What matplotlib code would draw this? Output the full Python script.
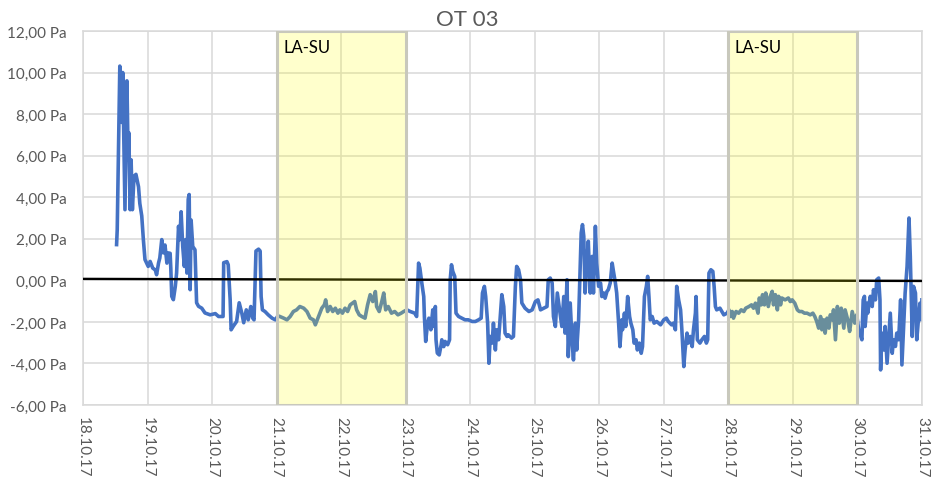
import matplotlib
matplotlib.use("Agg")
import matplotlib.pyplot as plt
from matplotlib.patches import Rectangle

# Pressure trace OT 03, time in days since 18.10.17 00:00, values in Pa
days = [
    0.52, 0.53, 0.57, 0.60, 0.615, 0.65, 0.68, 0.70, 0.71, 0.73, 0.745, 0.765, 0.79, 0.82, 0.86,
    0.88, 0.91, 0.935, 0.96, 0.99, 1.01, 1.04, 1.08, 1.12, 1.14, 1.17, 1.19, 1.22, 1.245, 1.27,
    1.30, 1.32, 1.35, 1.36, 1.375, 1.40, 1.43, 1.45, 1.48, 1.50, 1.52, 1.545, 1.57, 1.59, 1.61,
    1.63, 1.645, 1.66, 1.675, 1.70, 1.735, 1.76, 1.79, 1.84, 1.89, 1.97, 2.05, 2.10, 2.17, 2.18,
    2.23, 2.25, 2.28, 2.295, 2.33, 2.38, 2.42, 2.46, 2.49, 2.53, 2.56, 2.60, 2.63, 2.65, 2.68,
    2.72, 2.745,
    2.76, 2.78, 2.82, 2.87, 2.93, 2.98, 3.02, 3.05, 3.11, 3.16, 3.21, 3.26, 3.31, 3.36, 3.42,
    3.47, 3.52, 3.57, 3.60, 3.64, 3.67, 3.70, 3.74, 3.76, 3.79, 3.83, 3.87, 3.91, 3.95, 3.98,
    4.02, 4.06, 4.10, 4.14, 4.18, 4.21, 4.24, 4.28, 4.32, 4.37, 4.41, 4.45, 4.49, 4.53, 4.55,
    4.59, 4.63, 4.66, 4.69, 4.73, 4.78, 4.83, 4.88, 4.93, 4.97, 5.02, 5.07, 5.14,
    5.17, 5.19, 5.20, 5.22, 5.25, 5.28, 5.29, 5.31, 5.34, 5.36, 5.39, 5.42, 5.43, 5.46, 5.47,
    5.49, 5.52, 5.55, 5.56, 5.59, 5.61, 5.65, 5.68, 5.69, 5.71, 5.73, 5.76, 5.78, 5.82, 5.87,
    5.92, 5.97, 6.03, 6.08, 6.13, 6.17, 6.19, 6.22, 6.24, 6.27, 6.29, 6.31, 6.34, 6.36, 6.39,
    6.41, 6.44, 6.47, 6.49, 6.52, 6.54, 6.57, 6.59, 6.64, 6.67, 6.70, 6.72, 6.75, 6.78, 6.80,
    6.85, 6.91, 6.96, 7.01, 7.05, 7.09, 7.14, 7.19, 7.21, 7.24, 7.27, 7.29, 7.32, 7.35,
    7.42, 7.45, 7.47, 7.50, 7.52, 7.55, 7.58, 7.60, 7.63, 7.65, 7.68, 7.70, 7.72, 7.74, 7.76,
    7.78, 7.81, 7.83, 7.86, 7.89, 7.91, 7.94, 7.96, 7.99, 8.02, 8.04, 8.07, 8.09, 8.12, 8.14,
    8.17, 8.20, 8.22, 8.25, 8.27, 8.30, 8.32, 8.35, 8.36, 8.39, 8.41, 8.44, 8.47, 8.49, 8.52,
    8.54, 8.57, 8.59, 8.62, 8.65, 8.67, 8.70, 8.73, 8.75, 8.77, 8.79, 8.82, 8.85, 8.89, 8.95,
    9.00, 9.04, 9.07, 9.12, 9.15, 9.18, 9.20, 9.23, 9.26, 9.28, 9.31, 9.33, 9.36, 9.38, 9.41,
    9.44, 9.46, 9.49, 9.50, 9.52, 9.56, 9.59, 9.63, 9.66, 9.68, 9.70, 9.73, 9.76, 9.78, 9.80,
    9.82, 9.87,
    9.93, 9.98, 10.01, 10.03, 10.06, 10.08, 10.12, 10.16, 10.20, 10.24, 10.27, 10.32, 10.36,
    10.39, 10.42, 10.46, 10.48, 10.51, 10.53, 10.56, 10.58, 10.62, 10.65, 10.68, 10.70, 10.73,
    10.76, 10.78, 10.81, 10.83, 10.88, 10.93, 10.96, 10.99, 11.03, 11.07, 11.10, 11.14, 11.18,
    11.22, 11.27, 11.31, 11.34, 11.37, 11.40, 11.43, 11.45, 11.48, 11.50, 11.53, 11.56, 11.58,
    11.61, 11.63, 11.66, 11.69, 11.72, 11.75, 11.79, 11.81, 11.85, 11.88, 11.92, 11.96, 11.99,
    12.02,
    12.07, 12.09, 12.11, 12.12, 12.15, 12.16, 12.20, 12.23, 12.25, 12.28, 12.30, 12.33, 12.35,
    12.36, 12.38, 12.41, 12.43, 12.46, 12.49, 12.51, 12.54, 12.56, 12.59, 12.61, 12.64, 12.67,
    12.69, 12.72, 12.74, 12.77, 12.80, 12.82, 12.85, 12.87, 12.90, 12.92, 12.95, 12.97, 12.99,
    13.0,
]
pressure = [
    1.72, 2.44, 10.31, 7.6, 10.0, 3.4, 9.6, 5.8, 7.1, 3.4, 5.8, 3.4, 5.0, 5.1, 4.5,
    3.7, 3.1, 1.96, 1.0, 0.8, 0.67, 0.91, 0.59, 0.5, 0.27, 0.83, 1.08, 1.96, 1.32, 1.7,
    0.83, 1.32, 1.3, 0.6, -0.77, -0.93, -0.29, 0.35, 2.6, 1.96, 3.3, 1.63, 0.67, 1.96, 0.35,
    3.9, 4.13, -0.45, 2.9, 1.63, 1.47, -1.08, -1.25, -1.34, -1.57, -1.66, -1.6, -1.74, -1.74, 0.85,
    0.9, 0.75, -0.93, -2.38, -2.2, -1.98, -1.08, -1.57, -2.04, -1.42, -1.9, -1.26, -1.82, -1.9, 1.41,
    1.5, 1.41,
    -0.78, -1.42, -1.5, -1.66, -1.82, -1.9, -1.71, -1.74, -1.82, -1.9, -1.74, -1.5, -1.42, -1.26, -1.34,
    -1.5, -1.82, -1.9, -2.14, -1.82, -1.58, -1.34, -1.18, -0.94, -1.5, -1.26, -1.5, -1.34, -1.58, -1.42,
    -1.58, -1.34, -1.5, -1.18, -1.09, -1.02, -1.42, -1.66, -1.74, -1.82, -1.18, -0.69, -1.02, -0.54, -1.26,
    -1.5, -1.02, -0.61, -1.42, -1.26, -1.58, -1.5, -1.66, -1.58, -1.5, -1.42, -1.5, -1.58,
    -1.74, 0.03, 0.83, 0.59, -0.13, -0.78, -1.74, -2.94, -2.06, -1.82, -2.38, -1.42, -2.22, -1.26, -2.86,
    -3.50, -3.59, -3.10, -2.86, -3.19, -2.94, -3.10, -2.86, 0.03, 0.75, 0.43, 0.19, -1.58, -1.74, -1.82,
    -1.90, -1.90, -1.98, -1.98, -1.90, -1.82, -0.61, -0.29, -0.78, -2.06, -3.99, -2.70, -3.02, -2.06, -3.35,
    -2.38, -2.86, -1.58, -0.69, -1.26, -2.54, -2.70, -2.62, -2.78, -2.70, -0.29, 0.67, 0.51, 0.03, -1.09,
    -1.34, -1.50, -1.42, -1.02, -0.94, -1.42, -1.34, -1.26, 0.03, 0.11, -0.13, -1.74, -2.22, -0.61,
    -2.22, -0.78, -2.54, 0.03, -3.67, -1.09, -3.02, -3.83, -2.06, -3.35, -1.90, 0.19, 2.28, 2.68, 2.12,
    -0.61, 0.99, 1.88, -0.61, 1.15, -0.61, 2.60, 0.83, -0.29, -0.13, -0.78, -0.61, -0.86, -0.53, -0.45,
    -0.13, 0.83, 0.43, -0.13, -0.61, -2.06, -3.19, -1.90, -2.38, -1.58, -2.22, -0.78, -1.74, -2.06, -2.38,
    -3.02, -2.86, -3.35, -3.02, -3.51, -3.19, -0.78, -0.29, 0.19, -0.78, -1.90, -1.74, -2.06, -1.98, -2.14,
    -1.90, -1.82, -1.98, -2.14, -2.06, -2.38, -0.29, -0.94, -1.42, -2.38, -4.15, -3.35, -2.54, -3.02, -2.70,
    -3.19, -2.38, -1.58, -0.78, -2.86, -3.02, -2.86, -2.70, -3.02, -2.86, 0.35, 0.51, 0.43, -0.29, -1.26,
    -1.42, -1.34,
    -1.66, -1.58, -1.42, -1.74, -1.50, -1.82, -1.50, -1.58, -1.42, -1.50, -1.34, -1.26, -1.18,
    -1.34, -1.10, -1.58, -0.85, -1.18, -0.69, -1.18, -0.61, -1.26, -0.77, -0.53, -1.18, -0.69,
    -1.42, -0.77, -1.18, -0.85, -0.94, -0.85, -1.02, -0.94, -1.10, -1.42, -1.50, -1.50, -1.58,
    -1.58, -1.66, -1.58, -1.74, -1.98, -2.30, -1.74, -2.38, -1.90, -2.54, -1.82, -2.30, -1.66,
    -1.90, -1.42, -2.86, -1.26, -2.06, -1.34, -2.30, -1.42, -1.90, -2.46, -1.50, -2.06, -1.66,
    -2.38,
    -2.86, -0.94, -0.77, -2.22, -1.10, -1.58, -0.77, -1.26, -0.45, -0.94, 0.03, 0.11, -0.94,
    -4.31, -2.54, -3.35, -2.22, -3.99, -2.54, -1.58, -3.51, -2.86, -3.18, -2.54, -2.86, -0.94,
    -4.07, -2.06, -0.61, 0.67, 3.0, 1.15, -2.70, -0.29, -0.61, -2.86, -1.74, -1.10, -1.90,
    -0.94,
]

# black reference line near 0 Pa
ref_days = [0, 13]
ref_values = [0.07, -0.03]

date_labels = ["18.10.17", "19.10.17", "20.10.17", "21.10.17", "22.10.17", "23.10.17", "24.10.17",
               "25.10.17", "26.10.17", "27.10.17", "28.10.17", "29.10.17", "30.10.17", "31.10.17"]
y_ticks = [-6, -4, -2, 0, 2, 4, 6, 8, 10, 12]

# LA-SU periods (start day, end day)
lasu_periods = [(3, 5), (10, 12)]
lasu_label = "LA-SU"

plt.rcParams["font.family"] = ["Lato", "DejaVu Sans"]

fig = plt.figure(figsize=(9.35, 4.89), dpi=100)
ax = fig.add_axes([0.0888, 0.1697, 0.8972, 0.7649])

ax.plot(days, pressure, color="#4472C4", lw=2.6, zorder=2, solid_joinstyle="round")
ax.plot(ref_days, ref_values, color="black", lw=1.7, zorder=3)

for start, end in lasu_periods:
    ax.add_patch(Rectangle((start, -6), end - start, 18, facecolor=(1, 1, 0, 0.2),
                           edgecolor="#c8c8bc", lw=2.2, zorder=4))
    ax.text(start + 0.1, 11.25, lasu_label, fontsize=12, color="black",
            ha="left", va="center", zorder=5)

ax.set_xlim(0, 13)
ax.set_ylim(-6, 12)
ax.set_xticks(range(len(date_labels)))
ax.set_xticklabels(date_labels, rotation=270, va="top", ha="center")
ax.set_yticks(y_ticks)
ax.set_yticklabels([f"{v:.2f}".replace(".", ",") + " Pa" for v in y_ticks])
ax.tick_params(axis="both", length=0, labelsize=11, colors="#595959")
ax.tick_params(axis="x", pad=8)
ax.tick_params(axis="y", pad=12)

ax.grid(True, color="#d9d9d9", lw=1.1, zorder=0)
ax.set_axisbelow(True)
for s in ax.spines.values():
    s.set_color("#d9d9d9")
    s.set_linewidth(1.1)

fig.text(0.5, 1 - 20 / 489, "OT 03", ha="center", va="center", fontsize=16, color="#595959")

fig.savefig("out.png", dpi=100)
